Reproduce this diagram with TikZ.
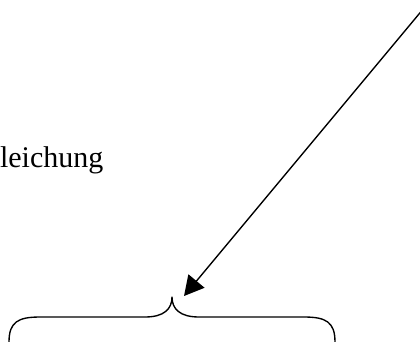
\documentclass[tikz,border=0pt]{standalone}
\usepackage{fontspec}
\setmainfont{Liberation Serif}
\usetikzlibrary{arrows.meta}
\begin{document}
\begin{tikzpicture}[x=0.4pt,y=-0.4pt,
  line/.style={line width=0.55pt,line cap=round,line join=round},
  arr/.style={line,-{Triangle[length=7.8pt,width=8.3pt]}}]
\useasboundingbox (0,0) rectangle (420,341);
\clip (0,0) rectangle (420,341);
\node[anchor=base west,inner sep=0pt,font=\fontsize{12pt}{14pt}\selectfont] (t) at (-0.5,167) {leichung};
\coordinate (a) at (434,-4);
\coordinate (b) at (184,296);
\draw[arr] (a) -- (b);
\draw[line] (9,350) -- (9,342) .. controls (9,322) and (18,317) .. (40,317)
  -- (145,317) .. controls (164,317) and (172,309) .. (172,297)
  .. controls (172,309) and (180,317) .. (199,317)
  -- (304,317) .. controls (326,317) and (335,322) .. (335,342) -- (335,350);
\end{tikzpicture}
\end{document}
